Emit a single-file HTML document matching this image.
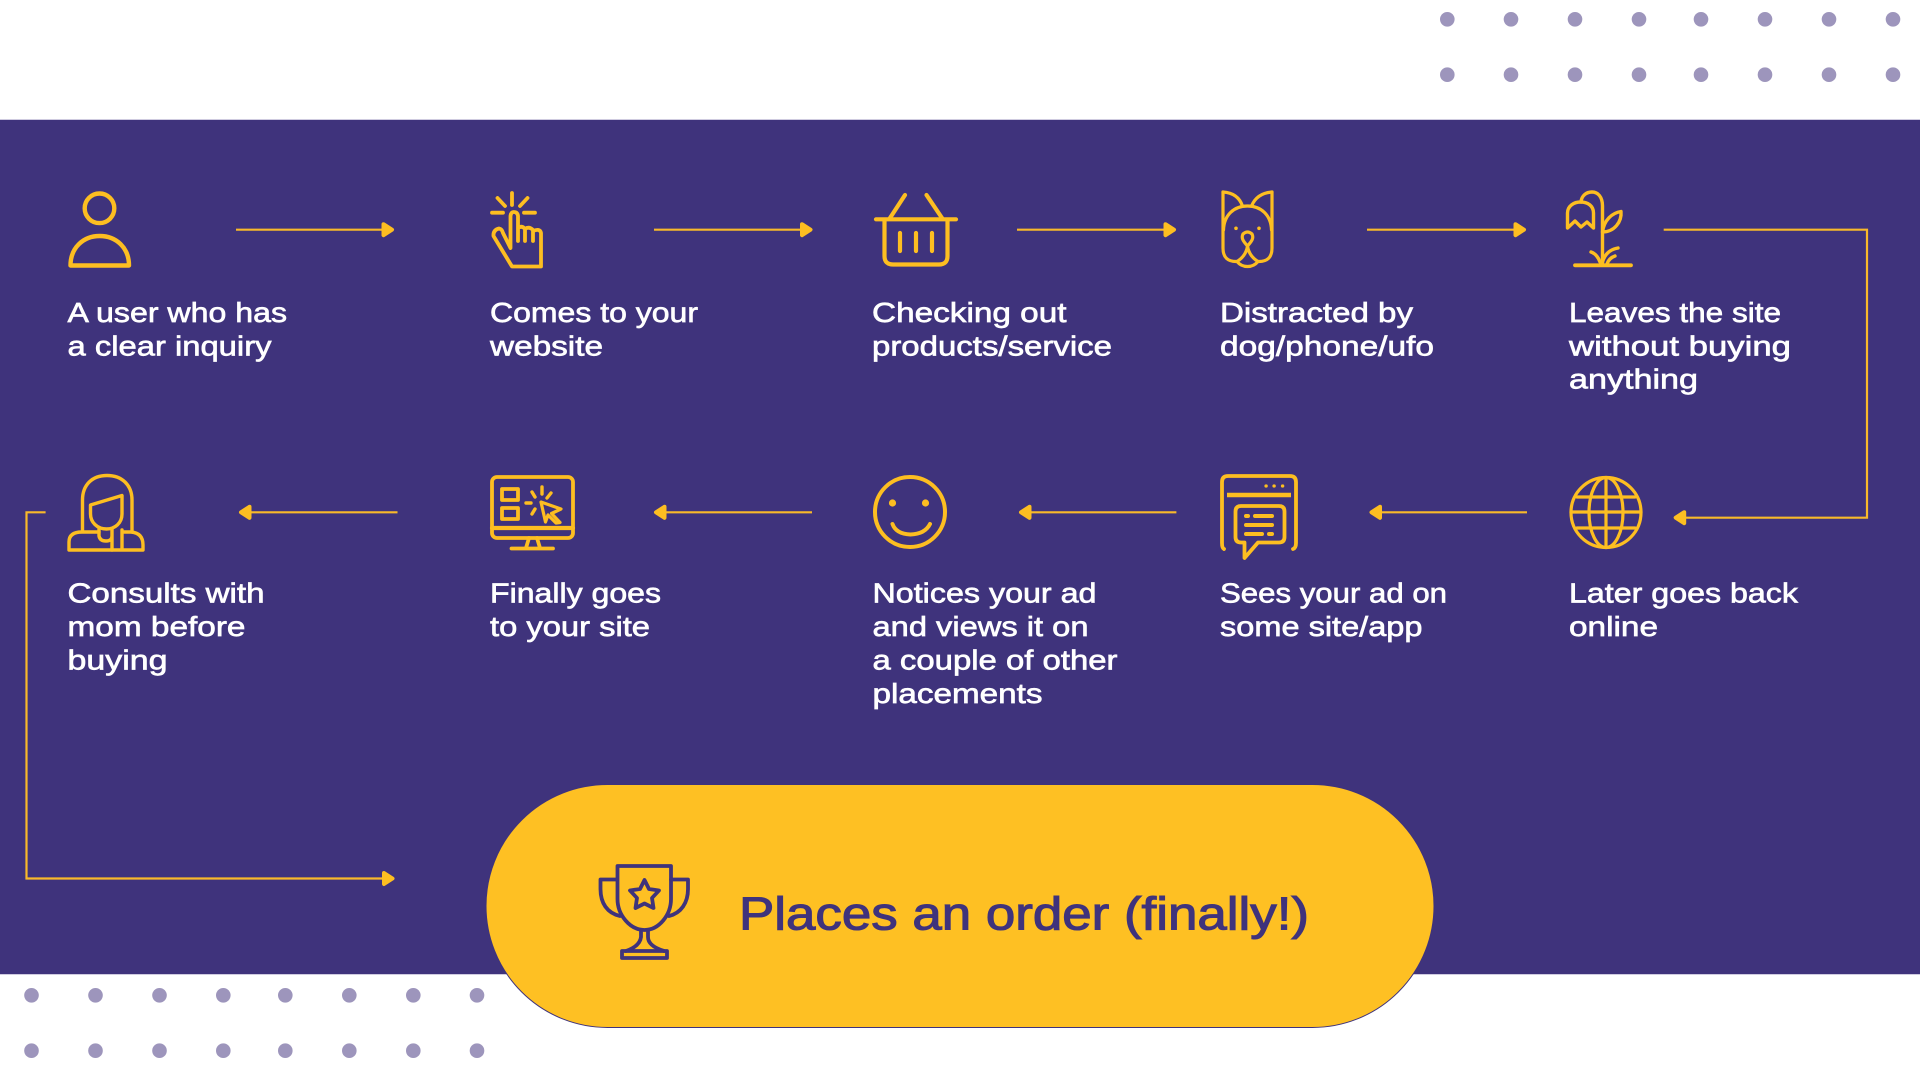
<!DOCTYPE html>
<html>
<head>
<meta charset="utf-8">
<style>
html,body{margin:0;padding:0;background:#fff;width:1920px;height:1080px;overflow:hidden}
svg{display:block}
text{font-family:"Liberation Sans",sans-serif}
.t{font-size:28px;fill:#fff;stroke:#fff;stroke-width:.65px}
.i{fill:none;stroke:#fdbe21;stroke-width:3.800;stroke-linecap:round;stroke-linejoin:round}
.l{fill:none;stroke:#f9b92a;stroke-width:2.200}
.h{fill:#fdbe21;stroke:#fdbe21;stroke-width:4;stroke-linejoin:round}
.k{fill:none;stroke:#3f337c;stroke-width:3.800;stroke-linecap:round;stroke-linejoin:round}
</style>
</head>
<body>
<svg width="1920" height="1080" viewBox="0 0 1920 1080" xmlns="http://www.w3.org/2000/svg">
<defs>
<path id="ar" d="M-11.500-5.500 L-3 0 L-11.500 5.500 Z"/>
</defs>
<rect width="1920" height="1080" fill="#fff"/>
<rect x="0" y="119" width="1920" height="856" fill="#cfcbe0"/>
<rect x="0" y="120" width="1920" height="854" fill="#3f337c"/>

<!-- dots -->
<g fill="#9d95bc">
<circle cx="1447.300" cy="19.300" r="7.300"/><circle cx="1511" cy="19.300" r="7.300"/><circle cx="1575" cy="19.300" r="7.300"/><circle cx="1639" cy="19.300" r="7.300"/><circle cx="1701" cy="19.300" r="7.300"/><circle cx="1765" cy="19.300" r="7.300"/><circle cx="1829" cy="19.300" r="7.300"/><circle cx="1893" cy="19.300" r="7.300"/>
<circle cx="1447.300" cy="74.700" r="7.300"/><circle cx="1511" cy="74.700" r="7.300"/><circle cx="1575" cy="74.700" r="7.300"/><circle cx="1639" cy="74.700" r="7.300"/><circle cx="1701" cy="74.700" r="7.300"/><circle cx="1765" cy="74.700" r="7.300"/><circle cx="1829" cy="74.700" r="7.300"/><circle cx="1893" cy="74.700" r="7.300"/>
<circle cx="31.500" cy="995.300" r="7.300"/><circle cx="95.500" cy="995.300" r="7.300"/><circle cx="159.500" cy="995.300" r="7.300"/><circle cx="223.300" cy="995.300" r="7.300"/><circle cx="285.300" cy="995.300" r="7.300"/><circle cx="349.300" cy="995.300" r="7.300"/><circle cx="413.300" cy="995.300" r="7.300"/><circle cx="477" cy="995.300" r="7.300"/>
<circle cx="31.500" cy="1050.700" r="7.300"/><circle cx="95.500" cy="1050.700" r="7.300"/><circle cx="159.500" cy="1050.700" r="7.300"/><circle cx="223.300" cy="1050.700" r="7.300"/><circle cx="285.300" cy="1050.700" r="7.300"/><circle cx="349.300" cy="1050.700" r="7.300"/><circle cx="413.300" cy="1050.700" r="7.300"/><circle cx="477" cy="1050.700" r="7.300"/>
</g>

<!-- connectors -->
<path class="l" d="M236 229.700H385M654 229.700H803M1017 229.700H1167M1367 229.700H1517"/>
<path class="l" d="M1663.700 229.700H1867V517.700H1684"/>
<path class="l" d="M1527 512.300H1378M1176.400 512.300H1028M812 512.300H663M397.500 512.300H248"/>
<path class="l" d="M45.600 512.300H26.500V878.500H385"/>
<g class="h">
<use href="#ar" transform="translate(395,229.700)"/>
<use href="#ar" transform="translate(813.500,229.700)"/>
<use href="#ar" transform="translate(1177,229.700)"/>
<use href="#ar" transform="translate(1527,229.700)"/>
<use href="#ar" transform="translate(395.500,878.500)"/>
<use href="#ar" transform="translate(1672.700,517.700) scale(-1,1)"/>
<use href="#ar" transform="translate(1368.500,512.300) scale(-1,1)"/>
<use href="#ar" transform="translate(1018,512.300) scale(-1,1)"/>
<use href="#ar" transform="translate(653,512.300) scale(-1,1)"/>
<use href="#ar" transform="translate(238,512.300) scale(-1,1)"/>
</g>

<!-- person -->
<g class="i" style="stroke-width:4.400">
<circle cx="99.500" cy="208.300" r="14.800"/>
<path d="M70.500 265.500C70.500 248 83 236 99.700 236C116.500 236 129 248 129 265.500Z"/>
</g>
<!-- hand -->
<g class="i">
<path d="M512 193V205M497.500 198L505 206M527.500 198L520 206M492 212.700H503M524 212.700H535"/>
<path d="M512 266.500L493.500 236Q493 230 499 228.500Q502 229 503 233L510.500 248V216Q511 212 513.700 212Q517.500 212 518 216V241V228Q522 225 525 229V241V229Q529 226 533 230V241V231Q540 228 541 233V266.500Z"/>
</g>
<!-- basket -->
<g class="i" style="stroke-width:4.200">
<path d="M905 195L890 218M926.500 195L942 218"/>
<path d="M876 219.300H956"/>
<path d="M884.500 220V256Q884.500 264.500 893 264.500H939Q947.500 264.500 947.500 256V220"/>
<path d="M900 233V251M916 233V251M932 233V251"/>
</g>
<!-- dog -->
<g class="i" style="stroke-width:3.200">
<path d="M1223 192V248Q1223 262 1237 261.500Q1241 266.500 1247.500 266.500Q1254 266.500 1258 261.500Q1272 262 1272 248V192"/>
<path d="M1223 192Q1238 193 1242.500 206M1272 192Q1257 193 1251.500 206"/>
<path d="M1223.500 230C1224 215 1234 206 1247.500 206C1261 206 1271 215 1271.500 230"/>
<path d="M1247.500 246C1243 241 1241 238 1243 234Q1247.500 230 1252 234C1254 238 1252 241 1247.500 246Q1246 256 1237 261.500M1247.500 246Q1249 256 1258 261.500"/>
</g>
<circle cx="1236" cy="228.300" r="1.800" fill="#fdbe21"/><circle cx="1259" cy="228.300" r="1.800" fill="#fdbe21"/>
<!-- flower -->
<g class="i" style="stroke-width:3.400">
<path d="M1575 265.300H1631" style="stroke-width:3.800"/>
<path d="M1602.500 265V206C1602.500 197 1598 192 1592 192C1586 192 1581.500 196 1581 202"/>
<path d="M1567.500 228V213C1567.500 206 1574 202 1580.500 202C1588 202 1593.500 206 1593.500 213V228L1587 222L1581 227L1575 221Z"/>
<path d="M1602.500 232C1604 220 1612 213 1621 211.500C1622 222 1614 232 1602.500 232Z"/>
<path d="M1602.500 262Q1606 250 1618 248M1600 262Q1597 254 1591 252M1607 264Q1609 258 1615 256"/>
</g>
<!-- woman -->
<g class="i" style="stroke-width:3.400">
<path d="M82.500 531V500C82.500 485 92 475.500 107 475.500C122 475.500 132 485 132 500V531"/>
<path d="M90.500 505L122 495.500V514C122 523 115 529 106.500 529C97 529 90.500 522 90.500 514Z"/>
<path d="M99 529V536Q100 541 106 541Q112 541 112 536V529M112 531V550"/>
<path d="M99 532H82Q69 532 69 542V550H143V545Q143 533 131 532H122M122 530V550"/>
</g>
<!-- monitor -->
<g class="i">
<rect x="492" y="477" width="81" height="61" rx="5"/>
<path d="M492 528H573" style="stroke-width:4.200"/>
<path d="M529 538L526 548M537 538L540 548M511.500 548.500H553"/>
<rect x="502" y="489" width="16" height="11"/>
<rect x="502" y="508" width="16" height="11"/>
<path d="M541 502L561 509L551.500 513.500L560 522.500L556 523L548 515L545.500 522Z" style="stroke-width:3.200"/>
<path d="M542 487V494M532 492L535 497M551 493L547 498M526 503H531M532 514L535 509" style="stroke-width:3.400"/>
</g>
<!-- smile -->
<g class="i" style="stroke-width:4">
<circle cx="910" cy="512" r="35"/>
<path d="M892.500 524Q896 534 910.500 534.500Q925 534 930 524"/>
</g>
<circle cx="892.500" cy="503" r="3.600" fill="#fdbe21"/><circle cx="925.500" cy="503" r="3.600" fill="#fdbe21"/>
<!-- ad window -->
<g class="i">
<path d="M1224 549Q1222 548 1222 543V482Q1222 476 1228 476H1290Q1296 476 1296 482V543Q1296 548 1293 549"/>
<path d="M1227 495H1291" style="stroke-width:4.400;stroke-linecap:butt"/>
<path d="M1241 506H1279Q1284.500 506 1284.500 511.500V537Q1284.500 542.500 1279 542.500H1258L1244.500 558V542.500H1241Q1235.500 542.500 1235.500 537V511.500Q1235.500 506 1241 506Z"/>
<path d="M1246 516H1248M1255 516H1272M1246 525H1272M1246 534H1262M1269 534H1272" style="stroke-width:4"/>
<path d="M1266 486H1266.200M1274 486H1274.200M1282.500 486H1282.700" style="stroke-width:3.200"/>
</g>
<!-- globe -->
<g class="i" style="stroke-width:3.200">
<circle cx="1606" cy="512.500" r="35"/>
<ellipse cx="1606" cy="512.500" rx="17" ry="35"/>
<path d="M1606 478V547M1571 512H1641M1577 497H1635M1577 528H1635"/>
</g>

<!-- pill -->
<rect x="486" y="784.500" width="948" height="243" rx="121.500" ry="121.500" fill="#fec023" stroke="#3f337c" stroke-width="1"/>

<!-- trophy -->
<g class="k">
<path d="M617.500 866H671V899C671 915 659 930 644.500 930C630 930 617.500 915 617.500 899Z"/>
<path d="M617 879.500H600.500V889C600.500 903 607 913 620 916M671 879.500H688V889C688 903 681 913 669 916"/>
<path d="M641 931V937Q640 946 626 951M648 931V937Q648 946 664 951"/>
<path d="M622 951H667V958H622Z"/>
<path d="M644.500 880L649 889L659 890.500L652 898L653.500 908L644.500 903.500L635.500 908L637 898L630 890.500L640 889Z"/>
</g>

<!-- labels -->
<text class="t" x="67.500" y="322" textLength="219.500" lengthAdjust="spacingAndGlyphs">A user who has</text>
<text class="t" x="67.500" y="355.300" textLength="204" lengthAdjust="spacingAndGlyphs">a clear inquiry</text>
<text class="t" x="490" y="322" textLength="208" lengthAdjust="spacingAndGlyphs">Comes to your</text>
<text class="t" x="490" y="355.300" textLength="113" lengthAdjust="spacingAndGlyphs">website</text>
<text class="t" x="872" y="322" textLength="194.500" lengthAdjust="spacingAndGlyphs">Checking out</text>
<text class="t" x="872" y="355.300" textLength="240" lengthAdjust="spacingAndGlyphs">products/service</text>
<text class="t" x="1220" y="322" textLength="193" lengthAdjust="spacingAndGlyphs">Distracted by</text>
<text class="t" x="1220" y="355.300" textLength="214" lengthAdjust="spacingAndGlyphs">dog/phone/ufo</text>
<text class="t" x="1569" y="322" textLength="212" lengthAdjust="spacingAndGlyphs">Leaves the site</text>
<text class="t" x="1569" y="355.300" textLength="222" lengthAdjust="spacingAndGlyphs">without buying</text>
<text class="t" x="1569" y="388.600" textLength="129" lengthAdjust="spacingAndGlyphs">anything</text>

<text class="t" x="67.500" y="602.700" textLength="197" lengthAdjust="spacingAndGlyphs">Consults with</text>
<text class="t" x="67.500" y="636" textLength="178" lengthAdjust="spacingAndGlyphs">mom before</text>
<text class="t" x="67.500" y="669.300" textLength="100" lengthAdjust="spacingAndGlyphs">buying</text>
<text class="t" x="490" y="602.700" textLength="171" lengthAdjust="spacingAndGlyphs">Finally goes</text>
<text class="t" x="490" y="636" textLength="160" lengthAdjust="spacingAndGlyphs">to your site</text>
<text class="t" x="872.500" y="602.700" textLength="224" lengthAdjust="spacingAndGlyphs">Notices your ad</text>
<text class="t" x="872.500" y="636" textLength="216" lengthAdjust="spacingAndGlyphs">and views it on</text>
<text class="t" x="872.500" y="669.500" textLength="245" lengthAdjust="spacingAndGlyphs">a couple of other</text>
<text class="t" x="872.500" y="703" textLength="170" lengthAdjust="spacingAndGlyphs">placements</text>
<text class="t" x="1220" y="602.700" textLength="227" lengthAdjust="spacingAndGlyphs">Sees your ad on</text>
<text class="t" x="1220" y="636" textLength="202.500" lengthAdjust="spacingAndGlyphs">some site/app</text>
<text class="t" x="1569" y="602.700" textLength="229" lengthAdjust="spacingAndGlyphs">Later goes back</text>
<text class="t" x="1569" y="636" textLength="89" lengthAdjust="spacingAndGlyphs">online</text>

<text x="739" y="929.500" font-size="46" fill="#3f337c" stroke="#3f337c" stroke-width="1.100" textLength="570" lengthAdjust="spacingAndGlyphs">Places an order (finally!)</text>
</svg>
</body>
</html>
